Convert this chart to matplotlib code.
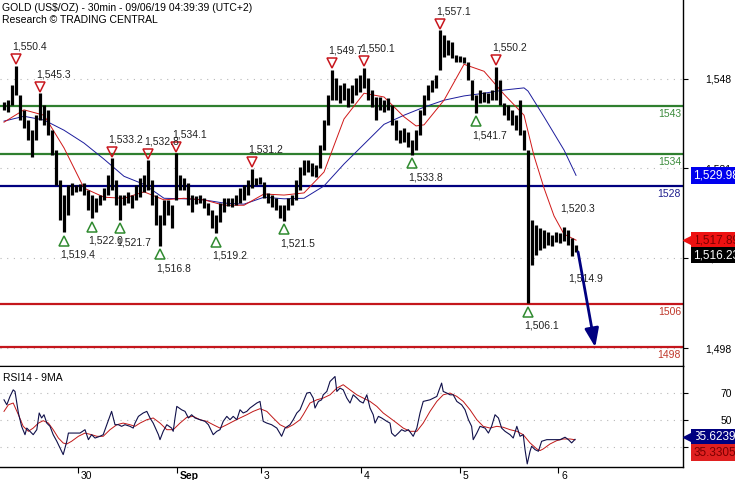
import matplotlib.pyplot as plt
from matplotlib.transforms import ScaledTranslation

plt.rcParams['font.family'] = ['Liberation Sans', 'DejaVu Sans']

# hourly bars (high / low)
highs = [1543.6, 1544.0, 1546.8, 1550.4, 1545.0, 1542.2, 1540.3, 1538.4, 1541.2, 1545.3,
         1543.1, 1542.2, 1538.4, 1534.7, 1529.1, 1526.3, 1528.2, 1528.5, 1528.2, 1528.4,
         1528.5, 1527.2, 1526.3, 1525.7, 1526.3, 1527.6, 1530.0, 1533.2, 1529.1, 1526.3,
         1526.3, 1526.9, 1526.3, 1528.2, 1529.5, 1530.0, 1532.8, 1529.1, 1526.3, 1522.6,
         1525.4, 1525.4, 1524.4, 1534.1, 1530.0, 1529.5, 1528.5, 1526.3, 1526.1, 1526.3,
         1525.7, 1524.8, 1523.5, 1522.6, 1524.8, 1525.7, 1525.7, 1525.7, 1526.3, 1527.6,
         1528.2, 1529.1, 1531.2, 1529.5, 1529.7, 1528.7, 1526.7, 1526.3, 1525.7, 1524.4,
         1524.4, 1525.7, 1526.3, 1529.1, 1531.5, 1532.8, 1532.8, 1532.3, 1531.9, 1535.6,
         1540.3, 1545.0, 1549.7, 1548.1, 1546.8, 1547.2, 1546.3, 1546.8, 1548.1, 1548.7,
         1550.1, 1548.1, 1545.9, 1544.6, 1544.6, 1544.0, 1544.4, 1543.1, 1540.3, 1538.4,
         1538.8, 1538.1, 1536.6, 1538.4, 1542.2, 1545.0, 1546.8, 1547.8, 1548.7, 1557.1,
         1556.2, 1555.2, 1554.8, 1552.4, 1552.2, 1552.0, 1551.1, 1547.8, 1545.0, 1545.9,
         1545.5, 1545.3, 1545.9, 1550.2, 1547.8, 1543.5, 1543.1, 1542.2, 1541.2, 1544.0,
         1538.4, 1534.7, 1521.6, 1520.7, 1520.1, 1519.8, 1519.4, 1518.8, 1519.4, 1519.2,
         1520.3, 1519.8, 1518.3, 1517.0]
lows = [1542.2, 1541.8, 1543.1, 1545.0, 1540.3, 1538.8, 1536.6, 1533.4, 1536.6, 1540.3,
        1539.4, 1537.5, 1533.8, 1528.2, 1521.6, 1519.4, 1522.6, 1526.3, 1526.9, 1527.0,
        1526.3, 1523.5, 1522.0, 1523.1, 1524.4, 1525.4, 1526.3, 1527.2, 1524.4, 1521.7,
        1524.4, 1524.8, 1523.9, 1525.4, 1525.9, 1526.9, 1527.2, 1524.4, 1520.7, 1516.8,
        1520.7, 1522.6, 1520.1, 1525.4, 1527.2, 1527.2, 1524.4, 1523.1, 1524.6, 1524.8,
        1523.9, 1522.6, 1520.1, 1519.2, 1521.3, 1523.1, 1524.2, 1524.1, 1524.4, 1524.8,
        1525.4, 1526.3, 1527.6, 1528.2, 1528.4, 1525.7, 1524.8, 1524.1, 1523.5, 1522.0,
        1521.5, 1523.5, 1524.4, 1525.4, 1527.2, 1530.0, 1530.6, 1529.8, 1529.7, 1531.3,
        1534.7, 1539.4, 1544.0, 1544.0, 1543.5, 1544.0, 1542.7, 1543.5, 1545.0, 1545.5,
        1546.3, 1544.0, 1542.7, 1540.3, 1542.2, 1541.8, 1542.2, 1539.4, 1536.6, 1536.0,
        1536.2, 1535.3, 1533.8, 1534.7, 1537.5, 1541.2, 1544.0, 1545.5, 1546.3, 1549.6,
        1552.0, 1552.4, 1551.9, 1551.1, 1551.1, 1550.9, 1547.8, 1544.0, 1541.7, 1543.5,
        1543.6, 1543.5, 1544.0, 1544.0, 1543.1, 1541.2, 1540.3, 1539.4, 1538.4, 1537.5,
        1534.7, 1506.1, 1513.2, 1515.1, 1516.0, 1516.4, 1517.0, 1516.8, 1517.5, 1517.3,
        1517.7, 1517.0, 1514.9, 1515.7]

# swing points (bar indices); the last ones are not yet confirmed (no triangle)
peak_bars = [3, 9, 27, 36, 43, 62, 82, 90, 109, 123, 140]
trough_bars = [15, 22, 29, 39, 53, 70, 102, 118, 131, 142]
open_pivots = [140, 142]

# moving averages
red_ma_x = [0, 5, 10, 15, 20, 25, 30, 35, 40, 45, 50, 55, 60, 65, 70, 75, 80, 85, 90, 95,
            100, 103, 105, 110, 115, 120, 125, 130, 132.5, 135, 137.5, 140, 143]
red_ma = [1539.9, 1542.2, 1541.2, 1535.1, 1527.6, 1525.9, 1525.7, 1526.9, 1525.4, 1525.7,
          1525.4, 1524.4, 1524.4, 1526.5, 1526.3, 1526.7, 1530.6, 1540.5, 1545.3, 1544.6,
          1540.9, 1539.2, 1539.4, 1544.0, 1550.7, 1549.4, 1545.1, 1541.2, 1533.6, 1527.6,
          1522.4, 1519.0, 1517.89]
blue_ma_x = [0, 5, 10, 15, 20, 25, 30, 35, 40, 45, 50, 55, 60, 65, 70, 75, 80, 85, 90, 95,
             100, 105, 110, 115, 120, 125, 130, 131, 135, 140, 143]
blue_ma = [1540.1, 1541.0, 1540.3, 1538.4, 1536.0, 1533.0, 1529.8, 1528.3, 1525.7, 1525.6,
           1525.4, 1524.8, 1524.6, 1525.9, 1525.6, 1525.7, 1528.0, 1532.1, 1535.8, 1539.5,
           1541.2, 1542.7, 1544.0, 1544.8, 1545.3, 1545.9, 1546.3, 1545.7, 1540.9, 1534.7,
           1529.98]

levels = [1543, 1534, 1528, 1506, 1498]
level_colors = ['#2f7f2f', '#2f7f2f', '#00007f', '#c4161c', '#c4161c']
level_text = ['#3d8c3d', '#3d8c3d', '#1f1f8f', '#c0392b', '#c0392b']

forecast = [(143.5, 1515.7), (147.8, 1497.9)]
last_price = 1516.23

price_ticks = [1548, 1531.3, 1514.6, 1497.7]
price_tick_labels = ['1,548', '1,531', '1,514', '1,498']

# RSI14 and its 9-period MA
rsi_x = [0, 0.7, 1.5, 2.3, 2.75, 3.2, 3.6, 4.4, 5.25, 5.7, 6.5, 7.3, 8.2, 8.8, 9.4, 10.0,
         10.7, 11.5, 12.3, 13.2, 14.0, 14.8, 15.7, 16.1, 17.3, 19.0, 20.25, 21.1, 21.9, 22.75,
         24.0, 24.8, 25.7, 26.9, 27.75, 28.6, 29.4, 30.25, 31.5, 32.3, 32.75, 33.6, 34.8, 35.7,
         36.5, 37.3, 38.6, 39.0, 39.8, 40.7, 41.9, 42.3, 42.75, 43.2, 44.4, 45.25, 46.1, 46.9,
         47.75, 49.0, 50.25, 51.1, 52.3, 53.2, 54.0, 54.8, 55.7, 56.5, 57.3, 58.2, 59.0, 59.8,
         60.7, 61.5, 63.2, 64.0, 64.8, 65.7, 66.9, 68.2, 69.4, 70.25, 71.5, 72.3, 73.2, 74.0,
         75.7, 76.5, 77.3, 77.75, 78.6, 79.4, 79.8, 80.7, 81.5, 82.75, 83.2, 84.0, 84.8, 85.7,
         86.5, 87.3, 88.2, 89.0, 89.8, 90.7, 91.5, 92.3, 92.75, 93.6, 94.4, 95.7, 96.5, 96.9,
         97.75, 98.6, 99.4, 100.25, 101.1, 102.3, 103.2, 104.0, 104.8, 106.5, 108.2, 109.4,
         109.8, 110.7, 111.5, 112.3, 113.2, 114.4, 115.25, 116.1, 116.9, 117.3, 118.2, 119.0,
         120.25, 121.1, 121.9, 122.75, 123.6, 124.4, 125.25, 126.5, 127.3, 128.2, 129.0, 129.8,
         130.25, 130.8, 131.5, 131.9, 132.75, 133.6, 134.4, 135.7, 137.3, 139.0, 140.25, 141.1,
         141.9, 142.75]
rsi = [65.0, 61.3, 67.5, 72.4, 71.2, 62.6, 55.2, 45.3, 39.1, 44.0, 41.6, 39.1, 42.8, 55.2,
       51.5, 53.9, 47.7, 45.3, 39.1, 34.2, 29.2, 24.3, 34.2, 40.3, 40.3, 40.3, 42.8, 35.4,
       39.1, 36.6, 37.9, 39.1, 46.5, 56.4, 46.5, 46.5, 45.3, 46.5, 45.3, 44.0, 47.7, 52.7,
       55.2, 56.4, 51.5, 47.7, 39.1, 35.4, 41.6, 46.5, 44.0, 41.6, 51.5, 60.1, 57.6, 56.4,
       51.5, 53.9, 51.5, 50.2, 49.0, 46.5, 39.1, 41.6, 42.8, 49.0, 52.7, 50.2, 52.7, 50.2,
       57.6, 55.2, 56.4, 58.9, 62.6, 63.8, 49.0, 47.7, 46.5, 44.0, 37.9, 44.0, 46.5, 50.2,
       55.2, 57.6, 70.0, 70.5, 66.3, 58.9, 63.8, 65.0, 68.7, 71.2, 78.6, 82.3, 71.2, 73.7,
       72.4, 66.3, 62.6, 68.7, 66.3, 63.8, 62.6, 68.7, 58.9, 53.9, 47.7, 52.7, 51.5, 49.0,
       47.7, 40.3, 37.9, 40.3, 42.8, 41.6, 42.8, 37.9, 44.0, 55.2, 63.8, 65.0, 67.5, 77.4,
       71.2, 70.0, 68.7, 68.7, 63.8, 61.3, 57.6, 50.2, 45.3, 35.4, 40.3, 45.3, 44.0, 40.3,
       45.3, 53.9, 51.5, 44.0, 41.6, 39.1, 36.6, 45.3, 37.9, 39.1, 28.0, 17.4, 26.8, 30.5,
       28.0, 26.8, 34.2, 35.4, 35.4, 35.4, 37.2, 35.4, 33.0, 35.6239]
rsi_ma_x = [0, 1.1, 2.3, 3.6, 4.8, 6.1, 7.3, 8.6, 9.8, 11.1, 12.3, 13.6, 14.8, 15.7, 16.9,
            18.6, 20.25, 21.9, 23.2, 24.8, 26.5, 28.2, 29.8, 31.5, 32.75, 34.0, 35.7, 37.3,
            39.0, 40.7, 42.3, 44.0, 45.7, 47.3, 49.0, 50.7, 52.3, 54.0, 55.7, 57.3, 59.0,
            60.7, 62.3, 64.0, 65.7, 67.3, 69.0, 70.7, 72.3, 74.0, 74.8, 76.5, 78.2, 79.8,
            81.5, 83.2, 84.8, 86.5, 88.2, 89.8, 91.5, 93.2, 94.8, 96.5, 98.2, 99.8, 101.5,
            103.2, 104.8, 106.5, 108.2, 109.8, 111.5, 113.2, 114.8, 116.5, 118.2, 119.8,
            121.5, 123.2, 124.8, 126.5, 128.2, 129.8, 131.5, 133.2, 134.0, 134.8, 136.5,
            138.2, 139.8, 141.5, 142.75]
rsi_ma = [56.4, 61.3, 62.6, 53.9, 45.3, 41.6, 44.0, 47.7, 49.5, 47.7, 42.8, 36.6, 32.9,
          32.2, 34.2, 37.9, 40.3, 39.1, 37.9, 37.9, 42.8, 46.5, 47.7, 46.5, 45.3, 47.7, 50.2,
          51.5, 47.7, 42.8, 42.8, 47.7, 52.0, 52.7, 50.2, 49.0, 46.5, 44.0, 46.5, 49.0, 51.5,
          53.9, 56.4, 58.4, 56.4, 51.5, 46.5, 44.0, 46.5, 50.2, 53.9, 62.6, 65.0, 66.3, 68.7,
          73.7, 76.2, 72.4, 68.7, 66.3, 63.8, 60.1, 55.2, 51.5, 47.7, 44.0, 41.6, 41.6, 47.7,
          56.4, 63.8, 68.7, 70.0, 67.5, 63.8, 57.6, 50.2, 45.3, 44.0, 45.3, 44.6, 42.8, 41.6,
          39.1, 33.0, 28.5, 27.3, 28.5, 32.2, 34.7, 35.9, 35.9, 35.3305]

day_ticks = [18.5, 43.25, 64.25, 89.25, 114, 138.5]
day_labels = ['30', 'Sep', '3', '4', '5', '6']

RED = '#c8161d'
GREEN = '#2f8a2f'
NAVY = '#000080'

fig = plt.figure(figsize=(7.35, 4.8), dpi=100)
ax = fig.add_axes([0, 0.2375, 0.9293, 0.7625])
rax = fig.add_axes([0, 0.0271, 0.9293, 0.2104])


def px(dx, dy):
    return ScaledTranslation(dx / 100, dy / 100, fig.dpi_scale_trans)


for a in (ax, rax):
    a.set_xlim(-1, 169.75)
    a.spines['left'].set_visible(False)
    a.spines['top'].set_visible(False)
    a.spines['right'].set_linewidth(1.0)
    a.spines['bottom'].set_linewidth(1.0)
    a.yaxis.tick_right()
    a.tick_params(axis='y', direction='out', length=3.6, width=0.8, pad=31.5, labelsize=7.5)
    a.set_axisbelow(True)
    a.grid(axis='y', color='#b8b8b8', linestyle=(0, (1, 5)), linewidth=0.8)

ax.set_ylim(1494.4, 1562.7)
ax.set_yticks(price_ticks)
ax.set_yticklabels(price_tick_labels)
ax.tick_params(axis='x', bottom=False, labelbottom=False)

rax.set_ylim(15.1, 90.1)
rax.set_yticks([70, 50, 30])
rax.set_yticklabels(['70', '50', '30'])
rax.set_xticks(day_ticks)
rax.set_xticklabels(day_labels)
rax.tick_params(axis='x', direction='out', length=4, width=0.8, pad=-1, labelsize=7.5)
for lab in rax.get_xticklabels():
    lab.set_horizontalalignment('left')
    lab.set_transform(lab.get_transform() + px(3, 0))
    if lab.get_text() == 'Sep':
        lab.set_fontweight('bold')
for a in (ax, rax):
    for lab in a.get_yticklabels():
        lab.set_horizontalalignment('right')

# support / resistance
for lvl, c, tc in zip(levels, level_colors, level_text):
    ax.axhline(lvl, color=c, lw=1.6, zorder=2)
    ax.annotate(str(lvl), xy=(1, lvl), xycoords=('axes fraction', 'data'),
                xytext=(-2, -8), textcoords='offset pixels', ha='right', va='center',
                fontsize=7.5, color=tc)

# moving averages
ax.plot(blue_ma_x, blue_ma, color='#1c1c9c', lw=0.7, zorder=3)
ax.plot(red_ma_x, red_ma, color='#d01818', lw=0.7, zorder=3)

# bars
bars = list(range(len(highs)))
ax.vlines(bars, lows, highs, colors='black', lw=2.3, zorder=4)

# swing labels
for b in peak_bars:
    p = highs[b]
    if b not in open_pivots:
        ax.plot(b, p, marker='v', ms=7, mfc='none', mec=RED, mew=1.1,
                transform=ax.transData + px(0, 6.5), zorder=5)
    ax.annotate(f'{p:,.1f}', xy=(b, p), xytext=(-4, 19), textcoords='offset pixels',
                ha='left', va='center', fontsize=7.5, color='#222222', zorder=6)
for b in trough_bars:
    p = lows[b]
    if b not in open_pivots:
        ax.plot(b, p, marker='^', ms=7, mfc='none', mec=GREEN, mew=1.1,
                transform=ax.transData + px(0, -8.5), zorder=5)
    ax.annotate(f'{p:,.1f}', xy=(b, p), xytext=(-4, -22.5), textcoords='offset pixels',
                ha='left', va='center', fontsize=7.5, color='#222222', zorder=6)

# forecast arrow
ax.annotate('', xy=forecast[1], xytext=forecast[0],
            arrowprops=dict(arrowstyle='-|>,head_length=0.8,head_width=0.3', color=NAVY,
                            lw=2.0, mutation_scale=14, shrinkA=0, shrinkB=0), zorder=7)

# RSI panel
rax.plot(rsi_ma_x, rsi_ma, color='#c01818', lw=0.7, zorder=3)
rax.plot(rsi_x, rsi, color='#10104a', lw=0.8, zorder=4)
rax.spines['top'].set_visible(True)
rax.text(0.004, 0.88, 'RSI14 - 9MA', transform=rax.transAxes, fontsize=7.5, va='center')


def tag(a, value, text, fc, tc, dy=0, pointer=False):
    a.annotate(text, xy=(1, value), xycoords=('axes fraction', 'data'), xytext=(10, dy),
               textcoords='offset pixels', ha='left', va='center', fontsize=8.5, color=tc,
               bbox=dict(boxstyle='square,pad=0.2', fc=fc, ec='none'),
               annotation_clip=False, zorder=10)
    if pointer:
        a.plot([1.0], [value], marker='<', ms=9, color=fc, clip_on=False, zorder=10,
               transform=a.get_yaxis_transform() + px(6, dy))


tag(ax, blue_ma[-1], f'{blue_ma[-1]:,.2f}', '#0000ee', 'white')
tag(ax, red_ma[-1], f'{red_ma[-1]:,.2f}', '#ee1111', '#7a0000', pointer=True)
tag(ax, last_price, f'{last_price:,.2f}', 'black', 'white', dy=-6)
tag(rax, rsi[-1], f'{rsi[-1]:.4f}', '#000080', 'white', dy=2, pointer=True)
tag(rax, rsi_ma[-1], f'{rsi_ma[-1]:.4f}', '#e02020', '#7a0000', dy=-13)

fig.text(2 / 735, 1 - 8 / 480, 'GOLD (US$/OZ) - 30min - 09/06/19 04:39:39 (UTC+2)',
         fontsize=7.5, va='center')
fig.text(2 / 735, 1 - 20 / 480, 'Research \u00a9 TRADING CENTRAL', fontsize=7.5, va='center')

fig.savefig('out.png', dpi=100)
